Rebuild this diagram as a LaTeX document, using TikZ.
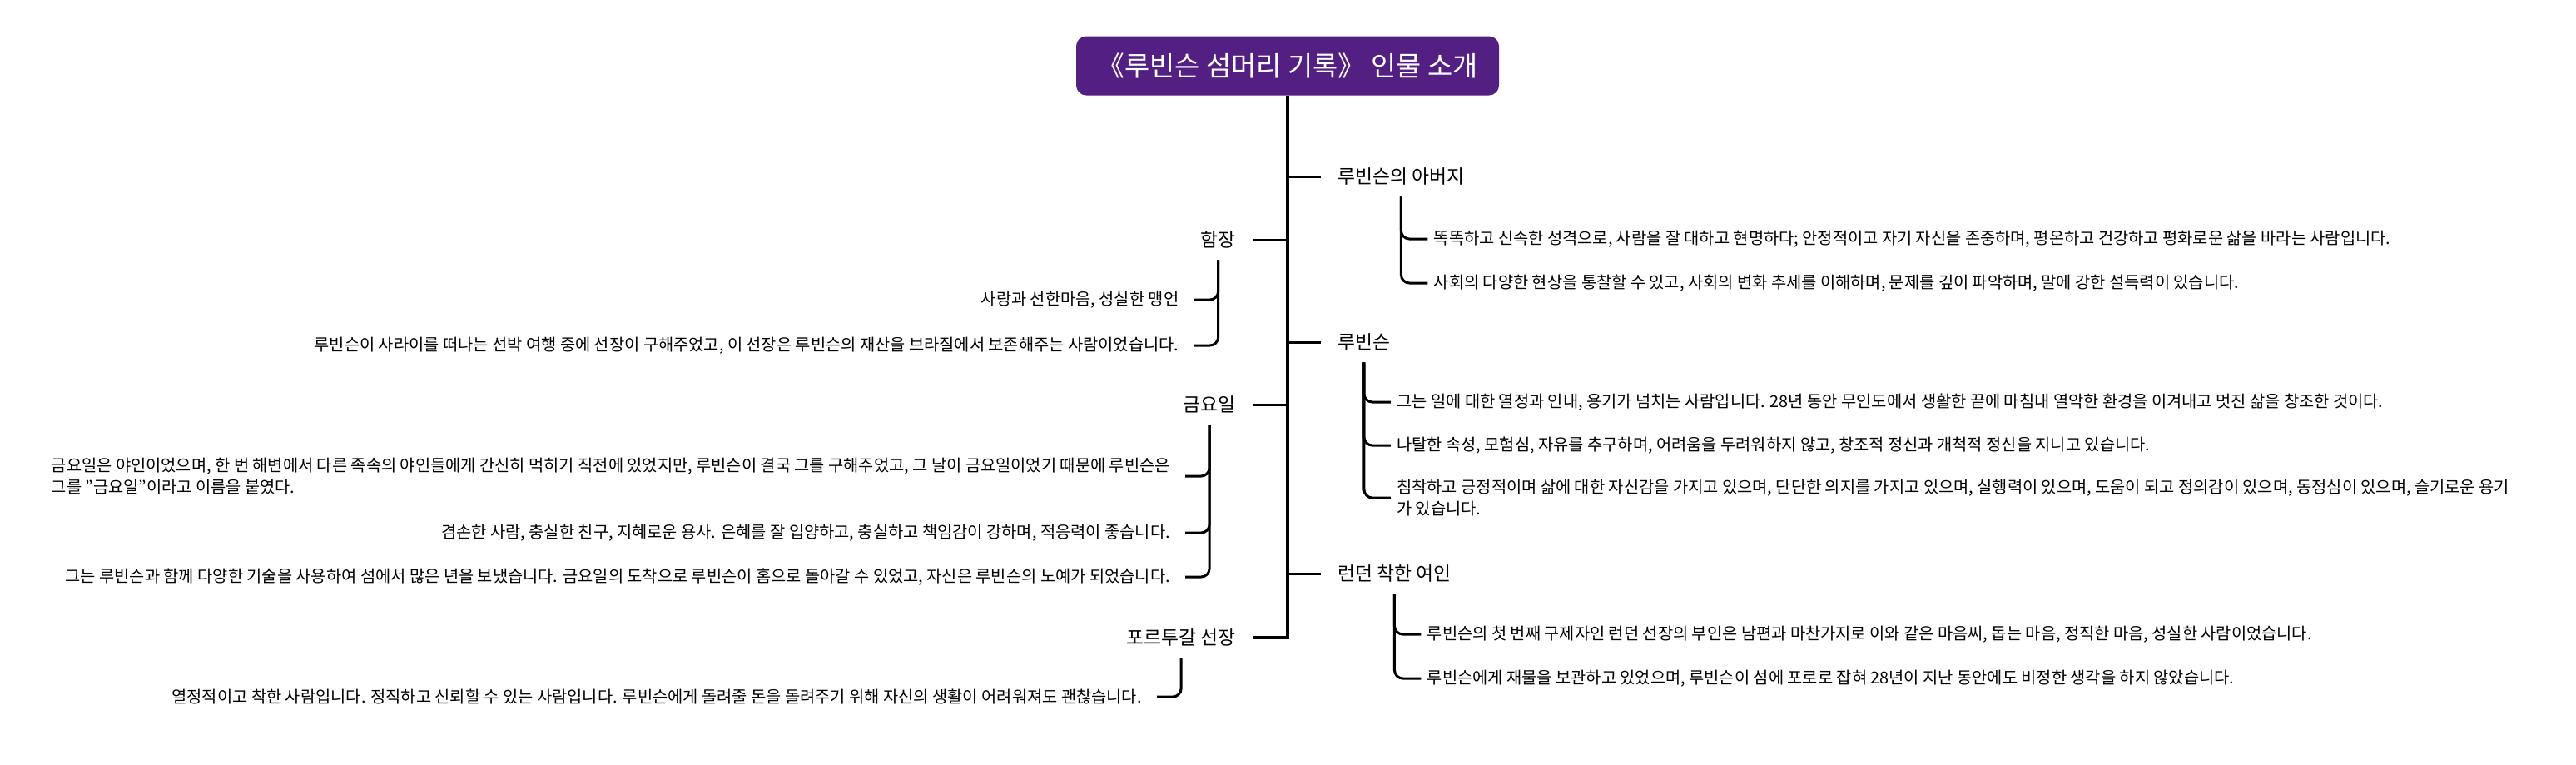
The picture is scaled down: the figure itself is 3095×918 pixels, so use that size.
\documentclass[tikz,border=0pt]{standalone}
\usepackage{fontspec}
\setmainfont{Noto Sans CJK KR}
\usepackage{xcolor}
\usetikzlibrary{positioning,calc}
\definecolor{rootpurple}{HTML}{531F83}

\begin{document}
\begin{tikzpicture}[x=0.5pt, y=-0.5pt,
  every node/.style={inner sep=0pt},
  rootbox/.style={fill=rootpurple, text=white, rounded corners=6pt,
    minimum width=254pt, minimum height=35.5pt, font=\fontsize{16.4pt}{19pt}\selectfont},
  branch/.style={font=\fontsize{11.4pt}{13pt}\selectfont, inner xsep=10pt, minimum height=24pt},
  leaf/.style={font=\fontsize{9.9pt}{12.8pt}\selectfont, align=left},
  leafR/.style={leaf, anchor=west, inner xsep=3.5pt},
  leafL/.style={leaf, anchor=east, inner xsep=9pt},
  trunk/.style={line width=2pt},
  twig/.style={line width=1.5pt},
  brace/.style={line width=1.5pt, rounded corners=5pt}]
  \useasboundingbox (0,0) rectangle (3095,918);

  % root
  \node[rootbox] (root) at (1547,79) {《루빈슨 섬머리 기록》 인물 소개};

  % branches
  \node[branch, anchor=west] (R1) at (1587,212) {루빈슨의 아버지};
  \node[branch, anchor=west] (R2) at (1587,411) {루빈슨};
  \node[branch, anchor=west] (R3) at (1587,689) {런던 착한 여인};
  \node[branch, anchor=east] (L1) at (1505,288) {함장};
  \node[branch, anchor=east] (L2) at (1505,486) {금요일};
  \node[branch, anchor=east] (L3) at (1505,766) {포르투갈 선장};

  % leaves, right side
  \node[leafR] (r11) at ($(R1.center)+(32,75)$)
      {똑똑하고 신속한 성격으로, 사람을 잘 대하고 현명하다; 안정적이고 자기 자신을 존중하며, 평온하고 건강하고 평화로운 삶을 바라는 사람입니다.};
  \node[leafR] (r12) at ($(R1.center)+(32,128)$)
      {사회의 다양한 현상을 통찰할 수 있고, 사회의 변화 추세를 이해하며, 문제를 깊이 파악하며, 말에 강한 설득력이 있습니다.};
  \node[leafR] (r21) at ($(R2.center)+(32,72)$)
      {그는 일에 대한 열정과 인내, 용기가 넘치는 사람입니다. 28년 동안 무인도에서 생활한 끝에 마침내 열악한 환경을 이겨내고 멋진 삶을 창조한 것이다.};
  \node[leafR] (r22) at ($(R2.center)+(32,124)$)
      {나탈한 속성, 모험심, 자유를 추구하며, 어려움을 두려워하지 않고, 창조적 정신과 개척적 정신을 지니고 있습니다.};
  \node[leafR] (r23) at ($(R2.center)+(32,187)$)
      {침착하고 긍정적이며 삶에 대한 자신감을 가지고 있으며, 단단한 의지를 가지고 있으며, 실행력이 있으며, 도움이 되고 정의감이 있으며, 동정심이 있으며, 슬기로운 용기\\가 있습니다.};
  \node[leafR] (r31) at ($(R3.center)+(32,73)$)
      {루빈슨의 첫 번째 구제자인 런던 선장의 부인은 남편과 마찬가지로 이와 같은 마음씨, 돕는 마음, 정직한 마음, 성실한 사람이었습니다.};
  \node[leafR] (r32) at ($(R3.center)+(32,126)$)
      {루빈슨에게 재물을 보관하고 있었으며, 루빈슨이 섬에 포로로 잡혀 28년이 지난 동안에도 비정한 생각을 하지 않았습니다.};

  % leaves, left side
  \node[leafL] (l11) at ($(L1.center)+(-29,72)$) {사랑과 선한마음, 성실한 맹언};
  \node[leafL] (l12) at ($(L1.center)+(-29,127)$)
      {루빈슨이 사라이를 떠나는 선박 여행 중에 선장이 구해주었고, 이 선장은 루빈슨의 재산을 브라질에서 보존해주는 사람이었습니다.};
  \node[leafL] (l21) at ($(L2.center)+(-29,86)$)
      {금요일은 야인이었으며, 한 번 해변에서 다른 족속의 야인들에게 간신히 먹히기 직전에 있었지만, 루빈슨이 결국 그를 구해주었고, 그 날이 금요일이었기 때문에 루빈슨은\\그를 "금요일"이라고 이름을 붙였다.};
  \node[leafL] (l22) at ($(L2.center)+(-29,154)$)
      {겸손한 사람, 충실한 친구, 지혜로운 용사. 은혜를 잘 입양하고, 충실하고 책임감이 강하며, 적응력이 좋습니다.};
  \node[leafL] (l23) at ($(L2.center)+(-29,207)$)
      {그는 루빈슨과 함께 다양한 기술을 사용하여 섬에서 많은 년을 보냈습니다. 금요일의 도착으로 루빈슨이 홈으로 돌아갈 수 있었고, 자신은 루빈슨의 노예가 되었습니다.};
  \node[leafL] (l31) at ($(L3.center)+(-29,71)$)
      {열정적이고 착한 사람입니다. 정직하고 신뢰할 수 있는 사람입니다. 루빈슨에게 돌려줄 돈을 돌려주기 위해 자신의 생활이 어려워져도 괜찮습니다.};

  % trunk and branch ticks
  \draw[trunk] (root.south) |- (L3.east);
  \foreach \b in {R1,R2,R3}
    \draw[twig] (root.south |- \b.west) -- (\b.west);
  \foreach \b in {L1,L2}
    \draw[twig] (root.south |- \b.east) -- (\b.east);

  % braces to the leaves
  \foreach \p/\c in {R1/r11,R1/r12,R2/r21,R2/r22,R2/r23,R3/r31,R3/r32}
    \draw[brace] (\p.south) |- (\c.west);
  \foreach \p/\c in {L1/l11,L1/l12,L2/l21,L2/l22,L2/l23,L3/l31}
    \draw[brace] (\p.south) |- (\c.east);
\end{tikzpicture}
\end{document}
